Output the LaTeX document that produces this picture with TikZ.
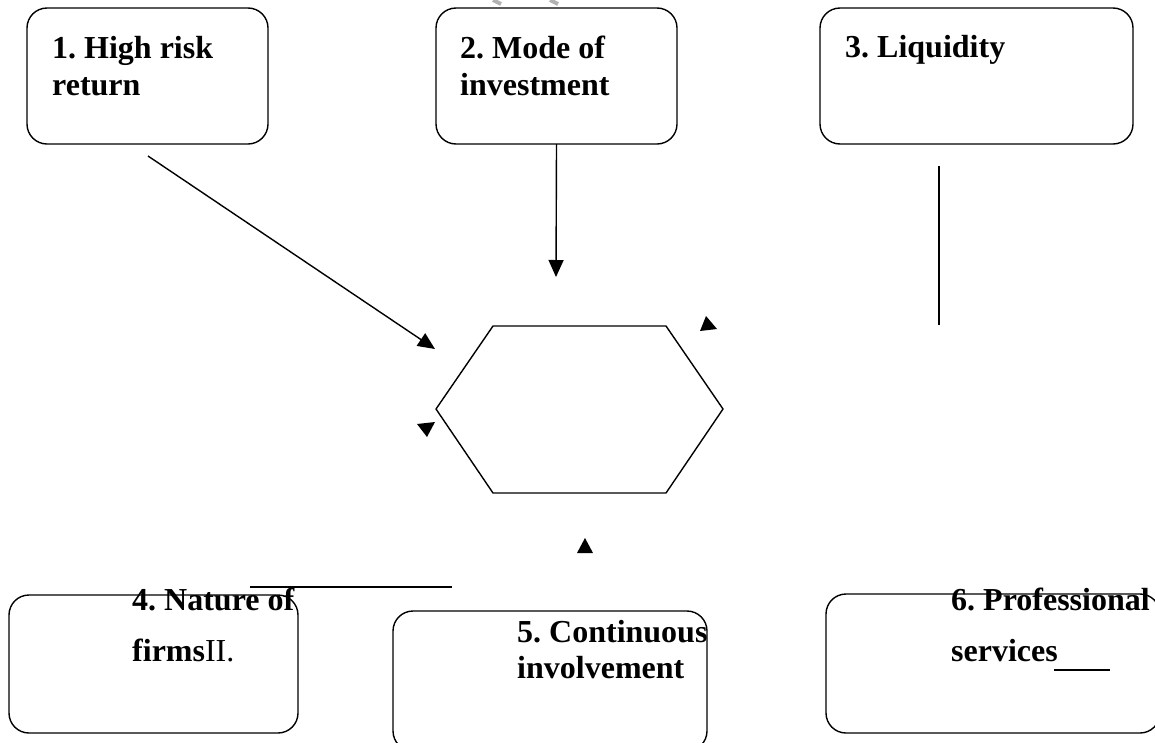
\documentclass[tikz,border=0pt]{standalone}
\usepackage{fontspec}
\setmainfont{Liberation Serif}
\usetikzlibrary{arrows.meta}
\frenchspacing
\begin{document}
\begin{tikzpicture}[x=1pt,y=-1pt,
  box/.style={draw, rounded corners=20pt, line width=1.4pt, inner sep=0pt, outer sep=0pt, anchor=north west},
  lbl/.style={anchor=base west, inner sep=0pt, font=\fontsize{32}{37}\selectfont\bfseries\frenchspacing},
  conn/.style={line width=1.4pt},
  arr/.style={conn, -{Triangle[length=17pt,width=15pt]}},
  tri/.style={fill=black},
  smudge/.style={line width=4pt, gray!60, line cap=butt}]
\useasboundingbox (0,0) rectangle (1155,742);
\clip (0,0) rectangle (1155,742);

% faint marks along the top edge
\draw[smudge] (493,0) -- (501,4);
\draw[smudge] (550,0) -- (558,4);

% top row of factor boxes
\node[box, minimum width=241pt, minimum height=136pt] (b1) at (27,8) {};
\node[box, minimum width=241pt, minimum height=136pt] (b2) at (436,8) {};
\node[box, minimum width=313pt, minimum height=136pt] (b3) at (820,8) {};
\node[lbl] (t1a) at (52,58) {1. High risk};
\node[lbl] (t1b) at (52,95) {return};
\node[lbl] (t2a) at (460,58) {2. Mode of};
\node[lbl] (t2b) at (460,95) {investment};
\node[lbl] (t3a) at (845,57) {3. Liquidity};

% central hexagon
\node (hex) at (579.5,409.5) {};
\draw[line width=1.4pt, line join=round]
  (493,326) -- (666,326) -- (723,409) -- (666,493) -- (493,493) -- (436,409) -- cycle;

% connectors
\coordinate (a1s) at (148,156);
\coordinate (a1e) at (435,349);
\coordinate (a2e) at (556,277);
\coordinate (l3s) at (939,166);
\coordinate (l3e) at (939,325);
\coordinate (hls) at (250,587);
\coordinate (hle) at (452,587);
\draw[arr] (a1s) -- (a1e);
\draw[arr] (b2.south) -- (a2e);
\draw[conn] (l3s) -- (l3e);
\draw[conn] (hls) -- (hle);

% loose arrowheads
\fill[tri] (706,316) -- (700,331) -- (717,329) -- cycle;
\fill[tri] (417,424) -- (435,422) -- (427,437) -- cycle;
\fill[tri] (585,538) -- (577,553) -- (593,553) -- cycle;

% bottom row of factor boxes
\node[box, minimum width=289pt, minimum height=138pt] (b4) at (9,595) {};
\node[box, minimum width=314pt, minimum height=140pt] (b5) at (393,611) {};
\node[box, minimum width=334pt, minimum height=139pt] (b6) at (826,594) {};
\node[lbl] (t4a) at (132,610) {4. Nature of};
\node[lbl] (t4b) at (132,661) {firms\textnormal{II.}};
\node[lbl] (t5a) at (517,642) {5. Continuous};
\node[lbl] (t5b) at (517,678) {involvement};
\node[lbl] (t6a) at (951,610) {6. Professional};
\node[lbl] (t6b) at (951,661) {services};
\coordinate (u6s) at (1054,670);
\coordinate (u6e) at (1110,670);
\draw[line width=2pt] (u6s) -- (u6e);
\end{tikzpicture}
\end{document}
